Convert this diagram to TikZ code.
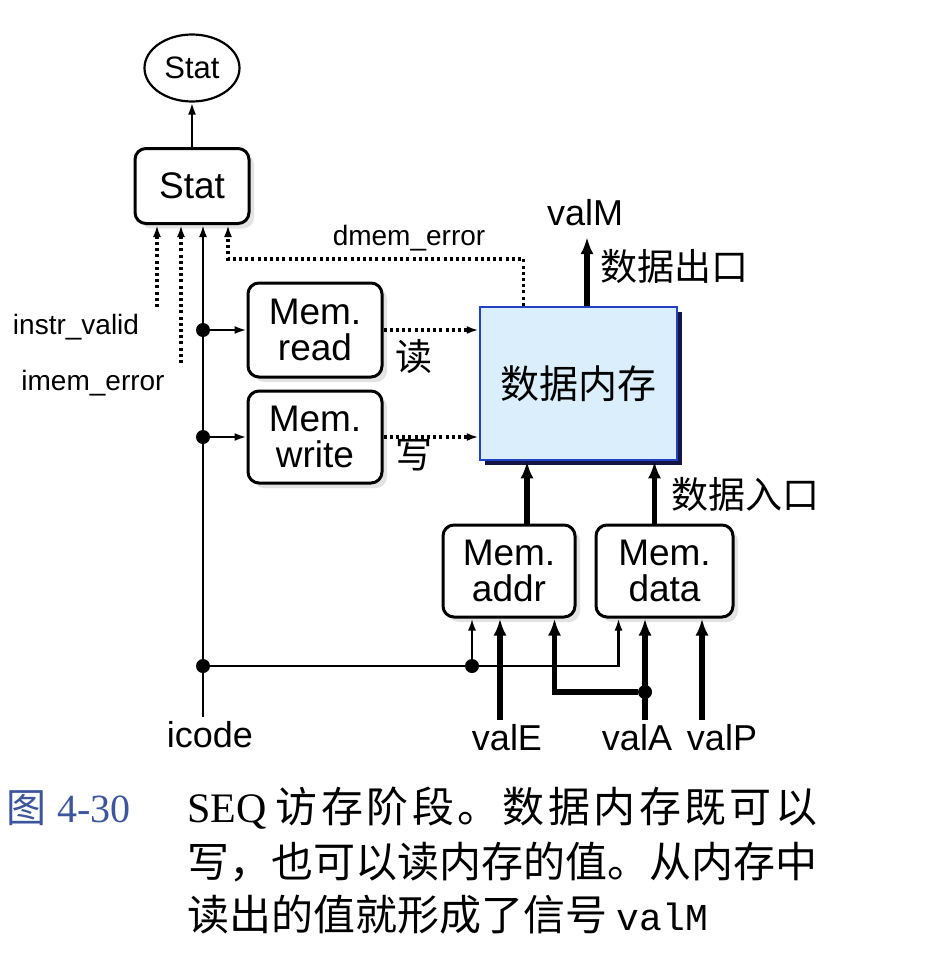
\documentclass[tikz,border=0pt]{standalone}
\usepackage{fontspec}
\setmainfont{Liberation Sans}
\newfontfamily\cjk{Noto Sans CJK SC}
\newfontfamily\capserif{Liberation Serif}
\newfontfamily\capmono{Liberation Mono}
\usetikzlibrary{arrows.meta,shapes.geometric,shadows,calc,positioning}
\definecolor{memfill}{RGB}{218,238,251}
\definecolor{memedge}{RGB}{35,65,195}
\definecolor{memshadow}{RGB}{20,20,70}
\definecolor{capblue}{RGB}{60,85,155}
% spread a justified caption line
\def\spreadchars#1{\spreadnext#1\relax}
\def\spreadnext#1{\ifx\relax#1\else#1\kern3.4pt\expandafter\spreadnext\fi}

\begin{document}
\begin{tikzpicture}[x=1pt, y=-1pt, >={Latex[length=12pt,width=8pt]},
    rbox/.style={draw, line width=3pt, rounded corners=11pt, fill=white, align=center,
        inner sep=0pt, font=\fontsize{37}{36}\selectfont,
        general shadow={fill=gray!22, shadow xshift=5pt, shadow yshift=-5pt}},
    wire/.style={line width=2.2pt},
    bus/.style={line width=5.5pt, -{Latex[length=17pt,width=13pt]}},
    dots/.style={line width=3.2pt, dash pattern=on 3pt off 3.2pt},
    junc/.style={circle, fill, inner sep=0pt, minimum size=14pt},
    lbl/.style={font=\fontsize{36}{36}\selectfont, inner sep=0pt},
    sig/.style={font=\fontsize{28}{28}\selectfont, inner sep=0pt},
    zh/.style={font=\cjk\fontsize{37}{37}\selectfont, inner sep=0pt},
    captxt/.style={anchor=west, inner sep=0pt, font=\cjk\fontsize{42}{42}\selectfont}]
    \useasboundingbox (0,0) rectangle (948,966);

    % blocks
    \node[draw, ellipse, line width=2.2pt, minimum width=95pt, minimum height=67pt,
        inner sep=0pt, font=\fontsize{31}{31}\selectfont] (statout) at (192,68) {Stat};
    \node[rbox, minimum width=114pt, minimum height=75pt] (statbox) at (192,186) {Stat};
    \node[rbox, minimum width=134pt, minimum height=94pt] (read) at (315,330) {Mem.\\read};
    \node[rbox, minimum width=134pt, minimum height=92pt] (write) at (315,437) {Mem.\\write};
    \node[rbox, minimum width=132pt, minimum height=92pt] (addr) at (509,571) {Mem.\\addr};
    \node[rbox, minimum width=137pt, minimum height=92pt] (data) at (664.5,571) {Mem.\\data};
    \node[draw=memedge, fill=memfill, line width=2.5pt, minimum width=197pt, minimum height=153pt,
        general shadow={fill=memshadow, shadow xshift=5pt, shadow yshift=-5pt},
        font=\cjk\fontsize{39}{39}\selectfont] (mem) at (578.5,383.5) {数据内存};

    % junctions and free ends
    \node[junc] (jread) at (203,330) {};
    \node[junc] (jwrite) at (203,437) {};
    \node[junc] (jbus) at (203,666) {};
    \node[junc] (jaddr) at (472,666) {};
    \node[junc] (jvalA) at (645,692) {};
    \coordinate (icodein) at (203,717);
    \coordinate (valEin) at (500,720);
    \coordinate (valAin) at (645,720);
    \coordinate (valPin) at (702,720);
    \coordinate (ivin) at (157,307);
    \coordinate (imin) at (181,363);
    \coordinate (dmturn) at (228,259);
    \coordinate (memout) at (587,237);
    \coordinate (dmsrc) at ($(mem.north west)+(45,0)$);
    \coordinate (addrup) at ($(addr.north)+(18,0)$);
    \coordinate (dataup) at ($(data.north)+(-10,0)$);
    \coordinate (datactl) at ($(data.south west)+(24,0)$);
    \coordinate (addrA) at ($(addr.south east)+(-22,0)$);

    % status
    \draw[wire,->] (statbox) -- (statout);
    \draw[dots,->] (ivin) -- (ivin |- statbox.south);
    \draw[dots,->] (imin) -- (imin |- statbox.south);
    \draw[wire,->] (icodein) -- (icodein |- statbox.south);
    \draw[dots,->] (dmsrc) |- (dmturn) -- (dmturn |- statbox.south);

    % control
    \draw[wire,->] (jread) -- (read);
    \draw[wire,->] (jwrite) -- (write);
    \draw[dots,->] (read) -- (read -| mem.west);
    \draw[dots,->] (write) -- (write -| mem.west);
    \draw[wire] (jbus) -- (jaddr);
    \draw[wire,->] (jaddr) -| (datactl);
    \draw[wire,->] (jaddr) -- (jaddr |- addr.south);

    % data path
    \draw[bus] (valEin) -- (valEin |- addr.south);
    \draw[bus] (valAin) -- (valAin |- data.south);
    \draw[bus] (jvalA) -| (addrA);
    \draw[bus] (valPin) -- (valPin |- data.south);
    \draw[bus] (addrup) -- (addrup |- mem.south);
    \draw[bus] (dataup) -- (dataup |- mem.south);
    \draw[bus] (memout |- mem.north) -- (memout);

    % labels
    \node[lbl] (icode) at (210,735) {icode};
    \node[lbl] (valE) at (507,738) {valE};
    \node[lbl] (valA) at (637,738) {valA};
    \node[lbl] (valP) at (722,738) {valP};
    \node[lbl] (valM) at (585,213) {valM};
    \node[zh] (outlbl) at (674,266) {数据出口};
    \node[zh] (inlbl) at (745,494) {数据入口};
    \node[zh] (rdlbl) at (414,357) {读};
    \node[zh] (wrlbl) at (414,455) {写};
    \node[sig] (ivlbl) at (76,327) {instr\_valid};
    \node[sig] (imlbl) at (93,383) {imem\_error};
    \node[sig] (dmlbl) at (409,238) {dmem\_error};

    % caption
    \node[anchor=west, inner sep=0pt, text=capblue, font=\fontsize{40}{40}\selectfont] (capnum)
        at (6,808) {{\cjk 图} {\capserif 4-30}};
    \node[captxt] (cap1) at (187,808) {{\capserif SEQ} \spreadchars{访存阶段。数据内存既可以}};
    \node[captxt] (cap2) at (187,862) {写，也可以读内存的值。从内存中};
    \node[captxt] (cap3) at (187,915) {读出的值就形成了信号 {\capmono\fontsize{38}{38}\selectfont valM}};
\end{tikzpicture}
\end{document}
